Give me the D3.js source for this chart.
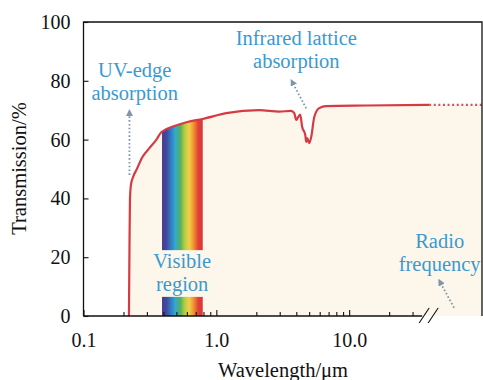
<!DOCTYPE html>
<html>
<head>
<meta charset="utf-8">
<script src="https://cdn.jsdelivr.net/npm/d3@7"></script>
<style>
  html, body { margin: 0; padding: 0; background: #fff; }
  svg { display: block; }
</style>
</head>
<body>
<svg id="chart" width="483" height="380"></svg>
<script>
// Transmission curve (wavelength in um, transmission in %)
const wavelength = [0.2198, 0.2218, 0.2237, 0.2276, 0.2376, 0.2503, 0.2778, 0.3135, 0.354, 0.386,
  0.483, 0.605, 0.785, 1.189, 2.10, 2.98, 3.66, 3.86, 4.0, 4.14, 4.28, 4.43, 4.67, 4.75, 4.83,
  5.0, 5.18, 5.46, 5.95, 6.71, 13.4, 40, 100];
const transmission = [0, 22.4, 39.5, 44.6, 47.6, 49.7, 54.1, 57.1, 60, 62.6,
  64.6, 66, 67, 69, 70, 69.5, 69.8, 69, 66.7, 67.7, 68.5, 64.3, 61.6, 59.2, 60.5,
  58.8, 60.9, 67.7, 70.7, 71.4, 71.6, 71.8, 71.8];
const breakAt = 40;            // axis break; curve is dotted beyond it
const visibleBand = [0.39, 0.79];
const yTicks = [0, 20, 40, 60, 80, 100];
const xMajorTicks = [0.1, 1, 10];
const xMajorLabels = ['0.1', '1.0', '10.0'];
const xMinorTicks = [0.2, 0.3, 0.4, 0.5, 0.6, 0.7, 0.8, 0.9, 2, 3, 4, 5, 6, 7, 8, 9, 20, 30];
const spectrumColors = ['#4a3a8c', '#3f4ba0', '#2f7fc1', '#36a9d0', '#4fb05a', '#b5cc46', '#f0d04a', '#f0922e', '#e0403a', '#d8363a'];

// annotations: text lines, anchor (wavelength, %), arrow from -> to
const notes = [
  { lines: ['UV-edge', 'absorption'], at: [0.243, 81.3], arrow: [[0.2218, 48], [0.2218, 69.2]] },
  { lines: ['Infrared lattice', 'absorption'], at: [4.0, 92.3], arrow: [[4.75, 70.6], [3.73, 79.6]] },
  { lines: ['Visible', 'region'], at: [0.553, 16.3], arrow: null },
  { lines: ['Radio', 'frequency'], at: [48, 23.1], arrow: [[61.6, 2.8], [48.3, 11.6]] }
];

// pick the first installed serif face (Times-like)
function pickFont() {
  const ctx = document.createElement('canvas').getContext('2d');
  const probe = 'Transmission Wavelength 0123';
  const widthOf = f => { ctx.font = f; return ctx.measureText(probe).width; };
  const candidates = ['Liberation Serif', 'Times New Roman', 'Tinos', 'Nimbus Roman', 'DejaVu Serif', 'Noto Serif'];
  const mono = widthOf('20px monospace');
  for (const c of candidates) {
    if (Math.abs(widthOf(`20px "${c}", monospace`) - mono) > 0.5) return `"${c}", serif`;
  }
  return 'serif';
}
const fontFamily = pickFont();

const svg = d3.select('#chart').style('font-family', fontFamily);
const plotLeft = 83.5, plotRight = 482, plotTop = 22, plotBottom = 316;

const x = d3.scaleLog().domain([0.1, 100]).range([plotLeft, plotRight]);
const y = d3.scaleLinear().domain([0, 100]).range([plotBottom, plotTop]);

const pts = wavelength.map((w, i) => [w, transmission[i]]);
const solid = pts.filter(p => p[0] <= breakAt);
const dotted = pts.filter(p => p[0] >= breakAt);

const line = d3.line().x(d => x(d[0])).y(d => y(d[1])).curve(d3.curveMonotoneX);
const area = d3.area().x(d => x(d[0])).y0(y(0)).y1(d => y(d[1])).curve(d3.curveMonotoneX);

const defs = svg.append('defs');
const grad = defs.append('linearGradient')
  .attr('id', 'spectrum')
  .attr('gradientUnits', 'userSpaceOnUse')
  .attr('x1', x(visibleBand[0])).attr('x2', x(visibleBand[1]))
  .attr('y1', 0).attr('y2', 0);
spectrumColors.forEach((c, i) => {
  grad.append('stop').attr('offset', i / (spectrumColors.length - 1)).attr('stop-color', c);
});
defs.append('clipPath').attr('id', 'bandClip')
  .append('rect')
  .attr('x', x(visibleBand[0])).attr('y', plotTop)
  .attr('width', x(visibleBand[1]) - x(visibleBand[0]))
  .attr('height', plotBottom - plotTop);
const marker = defs.append('marker')
  .attr('id', 'head')
  .attr('viewBox', '0 0 10 10')
  .attr('refX', 5).attr('refY', 5)
  .attr('markerWidth', 7).attr('markerHeight', 7)
  .attr('markerUnits', 'userSpaceOnUse')
  .attr('orient', 'auto');
marker.append('path').attr('d', 'M0,0 L10,5 L0,10 Z').attr('fill', '#7f95a8');

// cream fill under the curve
svg.append('path')
  .datum(pts)
  .attr('d', area)
  .attr('fill', '#fcf7ea');

// visible spectrum band
svg.append('path')
  .datum(pts)
  .attr('d', area)
  .attr('clip-path', 'url(#bandClip)')
  .attr('fill', 'url(#spectrum)');
svg.append('rect')
  .attr('x', x(visibleBand[0]) - 1)
  .attr('y', y(22.4))
  .attr('width', x(visibleBand[1]) - x(visibleBand[0]) + 2)
  .attr('height', y(6.5) - y(22.4))
  .attr('fill', '#fcf7ea');

// curve
svg.append('path')
  .datum(solid)
  .attr('d', line)
  .attr('fill', 'none')
  .attr('stroke', '#d43b43')
  .attr('stroke-width', 2.2)
  .attr('stroke-linejoin', 'round');
svg.append('path')
  .datum(dotted)
  .attr('d', line)
  .attr('fill', 'none')
  .attr('stroke', '#d8505a')
  .attr('stroke-width', 2.2)
  .attr('stroke-dasharray', '2,2.6');

// frame
svg.append('path')
  .attr('d', `M${plotLeft},${plotBottom} V${plotTop} H${plotRight} V${plotBottom}`)
  .attr('fill', 'none')
  .attr('stroke', '#111')
  .attr('stroke-width', 1.3);
const bx = x(breakAt);
svg.append('line')
  .attr('x1', plotLeft).attr('x2', bx - 7)
  .attr('y1', plotBottom).attr('y2', plotBottom)
  .attr('stroke', '#111').attr('stroke-width', 1.3);
[-5, 4].forEach(dx => {
  svg.append('line')
    .attr('x1', bx + dx - 5).attr('y1', plotBottom + 7)
    .attr('x2', bx + dx + 5).attr('y2', plotBottom - 8)
    .attr('stroke', '#111').attr('stroke-width', 1.1);
});

// y axis
const yAxis = svg.append('g')
  .attr('transform', `translate(${plotLeft},0)`)
  .call(d3.axisLeft(y).tickValues(yTicks).tickSize(-5).tickPadding(13));
yAxis.attr('font-family', null).attr('font-size', null);
yAxis.select('.domain').remove();
yAxis.selectAll('.tick line').attr('stroke', '#111').attr('stroke-width', 1.1);
yAxis.selectAll('.tick text')
  .attr('fill', '#111')
  .style('font-size', '20px');

// x axis, minor and major ticks
const xMinor = svg.append('g')
  .attr('transform', `translate(0,${plotBottom})`)
  .call(d3.axisBottom(x).tickValues(xMinorTicks).tickSize(-4).tickFormat(''));
xMinor.select('.domain').remove();
xMinor.selectAll('.tick line').attr('stroke', '#111').attr('stroke-width', 1.1);

const xMajor = svg.append('g')
  .attr('transform', `translate(0,${plotBottom})`)
  .call(d3.axisBottom(x).tickValues(xMajorTicks).tickSize(-6).tickPadding(16.5)
    .tickFormat((d, i) => xMajorLabels[i]));
xMajor.attr('font-family', null).attr('font-size', null);
xMajor.select('.domain').remove();
xMajor.selectAll('.tick line').attr('stroke', '#111').attr('stroke-width', 1.1);
xMajor.selectAll('.tick text')
  .attr('fill', '#111')
  .style('font-size', '20px');

// axis titles
svg.append('text')
  .attr('transform', `translate(26,168.5) rotate(-90)`)
  .attr('text-anchor', 'middle')
  .attr('fill', '#111')
  .style('font-size', '20.5px')
  .text('Transmission/%');
svg.append('text')
  .attr('x', 283).attr('y', 377)
  .attr('text-anchor', 'middle')
  .attr('fill', '#111')
  .style('font-size', '20.5px')
  .text('Wavelength/μm');

// annotations
notes.forEach(n => {
  if (n.arrow) {
    svg.append('line')
      .attr('x1', x(n.arrow[0][0])).attr('y1', y(n.arrow[0][1]))
      .attr('x2', x(n.arrow[1][0])).attr('y2', y(n.arrow[1][1]))
      .attr('stroke', '#7f95a8')
      .attr('stroke-width', 1.8)
      .attr('stroke-dasharray', '1.6,2.2')
      .attr('marker-end', 'url(#head)');
  }
  const t = svg.append('text')
    .attr('text-anchor', 'middle')
    .attr('fill', '#3a9ad0')
    .style('font-size', '20.5px');
  n.lines.forEach((s, i) => {
    t.append('tspan')
      .attr('x', x(n.at[0]))
      .attr('y', y(n.at[1]) + i * 23)
      .text(s);
  });
});
</script>
</body>
</html>
